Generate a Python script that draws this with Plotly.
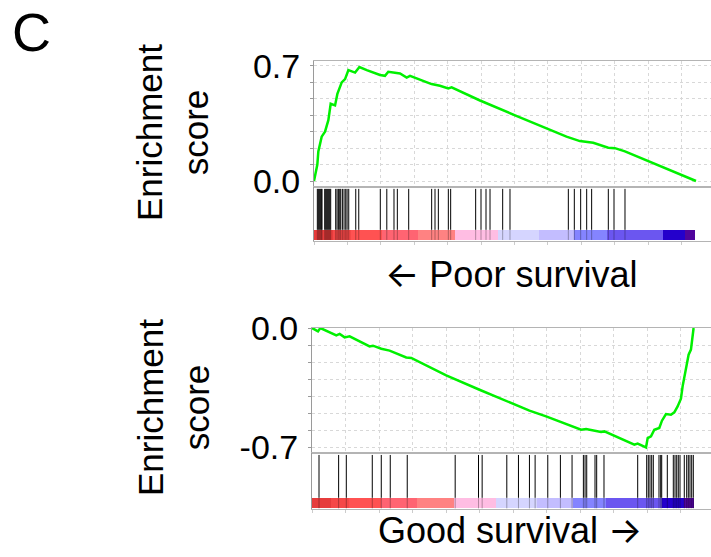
import plotly.graph_objects as go

FONT = "Arial, Liberation Sans, Helvetica, sans-serif"

# ---------------- data ----------------
# running enrichment score, "Poor survival" gene set (rank, ES)
top_rank = [0, 60, 100, 130, 230, 330, 430, 500, 630, 700, 830, 930, 1030, 1230, 1340, 1360,
            1580, 1976, 2125, 2225, 2575, 2775, 2875, 3520, 3770, 4020, 4120, 4970, 6020,
            7560, 7960, 8360, 8810, 9010, 9310, 11437]
top_es = [0.0, 0.067, 0.10, 0.18, 0.27, 0.30, 0.37, 0.47, 0.46, 0.53, 0.60, 0.62, 0.675, 0.66,
          0.69, 0.694, 0.675, 0.645, 0.64, 0.665, 0.655, 0.63, 0.64, 0.59, 0.58, 0.564, 0.57,
          0.49, 0.40, 0.27, 0.243, 0.233, 0.203, 0.20, 0.18, 0.0]

# running enrichment score, "Good survival" gene set
bot_rank = [0, 179, 249, 726, 825, 974, 1123, 1720, 1819, 2068, 2316, 2813, 2962, 4006, 5000,
            6491, 6988, 7485, 8032, 8181, 8380, 8628, 8728, 9622, 9721, 9970, 10020, 10119,
            10218, 10367, 10447, 10566, 10715, 10815, 10914, 11013, 11063, 11163, 11242,
            11312, 11342, 11391]
bot_es = [0.0, -0.02, 0.0, -0.043, -0.035, -0.055, -0.049, -0.108, -0.104, -0.122, -0.133,
          -0.173, -0.176, -0.278, -0.363, -0.486, -0.52, -0.559, -0.598, -0.594, -0.604,
          -0.612, -0.608, -0.686, -0.68, -0.702, -0.647, -0.637, -0.598, -0.588, -0.545,
          -0.506, -0.51, -0.496, -0.461, -0.416, -0.343, -0.245, -0.157, -0.127, -0.088, 0.0]

# hit positions (gene ranks) of each gene set
top_hits = [100, 130, 160, 190, 220, 240, 320, 350, 380, 410, 440, 470, 500, 650, 690, 730,
            770, 800, 850, 900, 950, 990, 1040, 1250, 1340, 1985, 2180, 2395, 2495, 2835,
            3523, 3623, 3723, 4022, 4092, 4840, 5000, 5150, 5270, 5649, 5868, 7615, 7794,
            7984, 8164, 8313, 8812, 8982, 9311]
bot_hits = [209, 795, 1024, 1799, 2068, 2336, 2843, 4274, 4970, 5079, 5815, 6163, 6491, 6660,
            7038, 7415, 7763, 8101, 8151, 8201, 8448, 8498, 8716, 9722, 9991, 10039, 10089,
            10140, 10188, 10358, 10409, 10439, 10606, 10785, 10836, 10887, 10934, 10985,
            11113, 11185, 11233, 11283, 11334, 11382]

# ranked-list colour bar segments
seg_edges = [0, 580, 1100, 2050, 3120, 4230, 5495, 6730, 7785, 8785, 10440, 11115, 11400]
seg_colors = ["#e63c3c", "#f54848", "#ff5252", "#ff6472", "#ff8282", "#ffbde3", "#d5d5ff",
              "#c3bdff", "#8484ff", "#6b56f0", "#2400cc", "#50049c"]

es_ticks = [0.0, 0.1, 0.2, 0.3, 0.4, 0.5, 0.6, 0.7]
es_ticktext_top = ["0.0", "", "", "", "", "", "", "0.7"]
es_ticks_bot = [0.0, -0.1, -0.2, -0.3, -0.4, -0.5, -0.6, -0.7]
es_ticktext_bot = ["0.0", "", "", "", "", "", "", "-0.7"]

# ---------------- figure ----------------
W, H = 711, 557


def py(px):
    return 1 - px / H


fig = go.Figure()


def hit_xy(hits, y0, y1):
    xs, ys = [], []
    for h in hits:
        xs += [h, h, None]
        ys += [y0, y1, None]
    return xs, ys


def add_panel(rank, es, hits, xa, ya, xh, yh):
    fig.add_trace(go.Scatter(x=rank, y=es, mode="lines", line=dict(color="#00f000", width=2.5),
                             xaxis=xa, yaxis=ya, hoverinfo="skip"))
    starts = seg_edges[:-1]
    widths = [b - a for a, b in zip(seg_edges[:-1], seg_edges[1:])]
    fig.add_trace(go.Bar(x=widths, base=starts, y=[0.105] * len(widths), width=0.19,
                         orientation="h", marker=dict(color=seg_colors, line=dict(width=0)),
                         xaxis=xh, yaxis=yh, hoverinfo="skip"))
    hx, hy = hit_xy(hits, 0.2, 0.965)
    fig.add_trace(go.Scatter(x=hx, y=hy, mode="lines", line=dict(color="black", width=1),
                             xaxis=xh, yaxis=yh, hoverinfo="skip"))
    hx, hy = hit_xy(hits, 0.01, 0.2)
    fig.add_trace(go.Scatter(x=hx, y=hy, mode="lines", line=dict(color="rgba(0,0,0,0.3)", width=1),
                             xaxis=xh, yaxis=yh, hoverinfo="skip"))


add_panel(top_rank, top_es, top_hits, "x", "y", "x2", "y2")
add_panel(bot_rank, bot_es, bot_hits, "x3", "y3", "x4", "y4")

grid = dict(showgrid=True, gridcolor="#d8d8d8", griddash="dot", gridwidth=1)
xl_top = 314
xl_bot = 312
xr_top = (W - xl_top) / 33.4 * 1000
xr_bot = (W - xl_bot) / 33.5 * 1000

common_x = dict(tick0=0, dtick=1000, showticklabels=False, zeroline=False, automargin=False,
                showline=True, mirror=True, linecolor="#b4b4b4", linewidth=1)
es_y = dict(zeroline=False, showline=True, linecolor="#9a9a9a", linewidth=1, automargin=False,
            ticks="outside", ticklen=3, tickcolor="#9a9a9a",
            tickfont=dict(family=FONT, size=34, color="black"), ticklabelstandoff=3)
hit_y = dict(range=[0, 1], showgrid=False, showticklabels=False, zeroline=False, automargin=False,
             showline=True, linecolor="#9a9a9a", linewidth=1, fixedrange=True)

fig.update_layout(
    template="none",
    width=W, height=H, margin=dict(l=0, r=0, t=0, b=0, pad=0, autoexpand=False),
    paper_bgcolor="white", plot_bgcolor="white", showlegend=False,
    barmode="overlay", bargap=0,
    xaxis=dict(domain=[xl_top / W, 1], range=[0, xr_top], anchor="y", **grid, **common_x),
    yaxis=dict(domain=[py(187), py(61)], range=[-0.0365, 0.7304], anchor="x",
               tickvals=es_ticks, ticktext=es_ticktext_top, **grid, **es_y),
    xaxis2=dict(domain=[xl_top / W, 1], range=[0, xr_top], anchor="y2", showgrid=False,
                ticks="outside", ticklen=3, tickcolor="#cccccc", **common_x),
    yaxis2=dict(domain=[py(240.5), py(187)], anchor="x2", **hit_y),
    xaxis3=dict(domain=[xl_bot / W, 1], range=[0, xr_bot], anchor="y3", **grid, **common_x),
    yaxis3=dict(domain=[py(453), py(327.5)], range=[-0.735, 0.003], anchor="x3",
                tickvals=es_ticks_bot, ticktext=es_ticktext_bot, **grid, **es_y),
    xaxis4=dict(domain=[xl_bot / W, 1], range=[0, xr_bot], anchor="y4", showgrid=False,
                ticks="outside", ticklen=3, tickcolor="#cccccc", **common_x),
    yaxis4=dict(domain=[py(509), py(453)], anchor="x4", **hit_y),
)

ann_font = dict(family=FONT, size=35, color="black")
lab_font = dict(family=FONT, size=36, color="black")
ARROW = "<span style='font-family:Inter'>%s</span>"
fig.add_annotation(text="C", x=31 / W, y=1, xref="paper", yref="paper",
                   showarrow=False, xanchor="center", yanchor="top",
                   font=dict(family=FONT, size=54, color="black"))
for yc in (133, 408):
    fig.add_annotation(text="Enrichment<br>score", x=173 / W, y=py(yc), xref="paper",
                       yref="paper", showarrow=False, textangle=-90, xanchor="center",
                       yanchor="middle", font=ann_font)
fig.add_annotation(text=ARROW % "\u2190" + " Poor survival", x=511 / W, y=py(274), xref="paper",
                   yref="paper", showarrow=False, xanchor="center", yanchor="middle", font=lab_font)
fig.add_annotation(text="Good survival " + ARROW % "\u2192", x=510 / W, y=py(530), xref="paper",
                   yref="paper", showarrow=False, xanchor="center", yanchor="middle", font=lab_font)

fig.write_html("out.html")
